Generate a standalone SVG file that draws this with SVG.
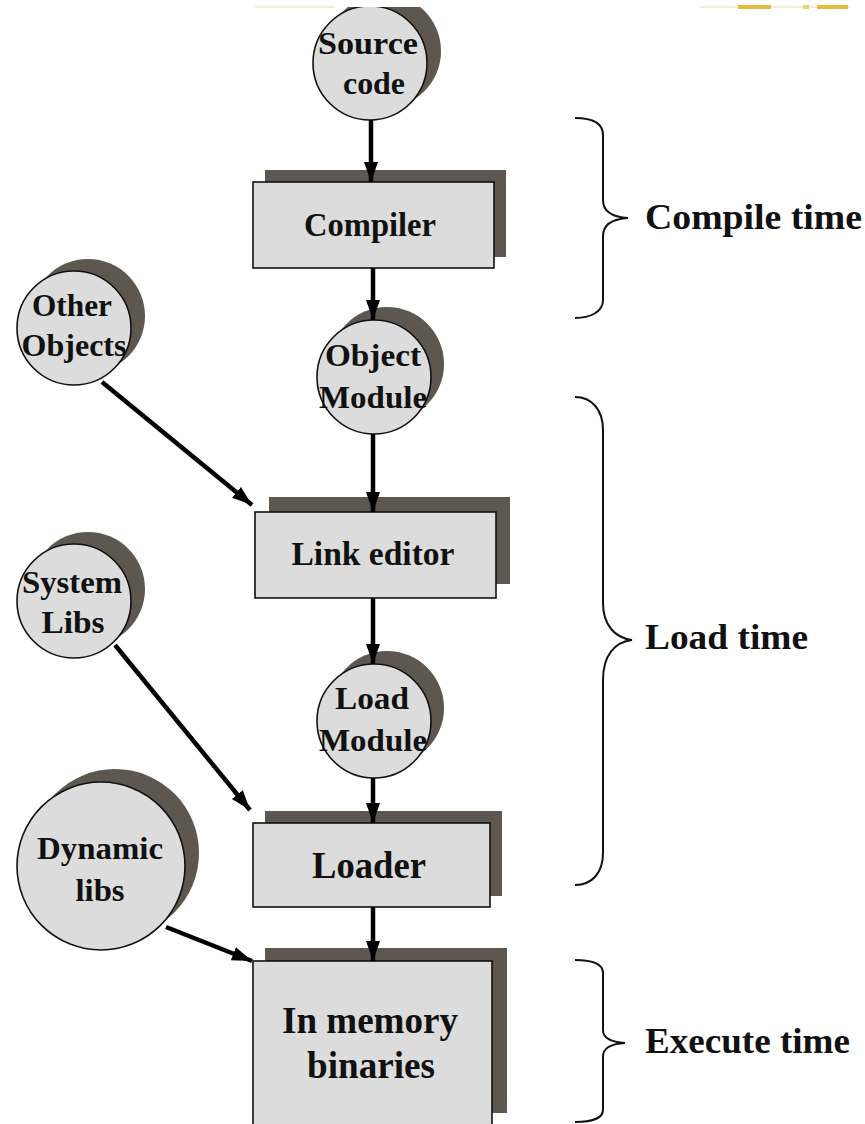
<svg xmlns="http://www.w3.org/2000/svg" width="865" height="1124" viewBox="0 0 865 1124">
  <style>
    .shadow { fill: #5e5750; }
    .face { fill: #dcdcdc; stroke: #111; stroke-width: 1.6; }
    .lbl { font-family: "Liberation Serif", "Times New Roman", serif; font-weight: bold; fill: #111; text-anchor: middle; }
    .sm { font-size: 32px; }
    .md { font-size: 34px; }
    .lg { font-size: 38px; }
    .side { font-family: "Liberation Serif", "Times New Roman", serif; font-weight: bold; fill: #111; font-size: 36px; }
    .arrow { stroke: #000; stroke-width: 4.5; fill: none; marker-end: url(#head); }
    .brace { stroke: #111; stroke-width: 2; fill: none; }
  </style>
  <defs>
    <marker id="head" markerUnits="userSpaceOnUse" markerWidth="22" markerHeight="18" refX="20" refY="9" orient="auto">
      <path d="M0,2 L20,9 L0,16 Z" fill="#000"/>
    </marker>
  </defs>

  <rect width="865" height="1124" fill="#fff"/>

  <!-- nodes -->
  <g id="source-code">
    <circle class="shadow" cx="384" cy="51" r="57"/>
    <circle class="face" cx="370" cy="63" r="57"/>
    <text class="lbl sm" x="368" y="54" textLength="100" lengthAdjust="spacingAndGlyphs">Source</text>
    <text class="lbl sm" x="374" y="94" textLength="62" lengthAdjust="spacingAndGlyphs">code</text>
  </g>

  <g id="compiler">
    <rect class="shadow" x="265" y="170" width="241" height="87"/>
    <rect class="face" x="253" y="182" width="241" height="86"/>
    <text class="lbl md" x="370" y="236" textLength="132" lengthAdjust="spacingAndGlyphs">Compiler</text>
  </g>

  <g id="other-objects">
    <circle class="shadow" cx="88" cy="316" r="57"/>
    <circle class="face" cx="74" cy="328" r="57"/>
    <text class="lbl sm" x="72" y="316" textLength="80" lengthAdjust="spacingAndGlyphs">Other</text>
    <text class="lbl sm" x="74" y="356" textLength="105" lengthAdjust="spacingAndGlyphs">Objects</text>
  </g>

  <g id="object-module">
    <circle class="shadow" cx="387" cy="364" r="57"/>
    <circle class="face" cx="374" cy="377" r="57"/>
    <text class="lbl sm" x="373" y="366" textLength="96" lengthAdjust="spacingAndGlyphs">Object</text>
    <text class="lbl sm" x="373" y="408" textLength="108" lengthAdjust="spacingAndGlyphs">Module</text>
  </g>

  <g id="link-editor">
    <rect class="shadow" x="269" y="497" width="241" height="87"/>
    <rect class="face" x="255" y="512" width="241" height="86"/>
    <text class="lbl md" x="373" y="565" textLength="163" lengthAdjust="spacingAndGlyphs">Link editor</text>
  </g>

  <g id="system-libs">
    <circle class="shadow" cx="88" cy="589" r="57"/>
    <circle class="face" cx="74" cy="601" r="57"/>
    <text class="lbl sm" x="72" y="593" textLength="100" lengthAdjust="spacingAndGlyphs">System</text>
    <text class="lbl sm" x="73" y="633" textLength="63" lengthAdjust="spacingAndGlyphs">Libs</text>
  </g>

  <g id="load-module">
    <circle class="shadow" cx="387" cy="708" r="57"/>
    <circle class="face" cx="374" cy="721" r="57"/>
    <text class="lbl sm" x="372" y="709" textLength="74" lengthAdjust="spacingAndGlyphs">Load</text>
    <text class="lbl sm" x="373" y="751" textLength="108" lengthAdjust="spacingAndGlyphs">Module</text>
  </g>

  <g id="loader">
    <rect class="shadow" x="265" y="811" width="237" height="85"/>
    <rect class="face" x="253" y="823" width="237" height="84"/>
    <text class="lbl lg" x="369" y="878" textLength="114" lengthAdjust="spacingAndGlyphs">Loader</text>
  </g>

  <g id="dynamic-libs">
    <circle class="shadow" cx="115" cy="853" r="84"/>
    <circle class="face" cx="101" cy="866" r="84"/>
    <text class="lbl sm" x="100" y="859" textLength="126" lengthAdjust="spacingAndGlyphs">Dynamic</text>
    <text class="lbl sm" x="100" y="901" textLength="49" lengthAdjust="spacingAndGlyphs">libs</text>
  </g>

  <g id="in-memory-binaries">
    <rect class="shadow" x="265" y="948" width="242" height="165"/>
    <rect class="face" x="253" y="961" width="239" height="170"/>
    <text class="lbl lg" x="370" y="1033" textLength="176" lengthAdjust="spacingAndGlyphs">In memory</text>
    <text class="lbl lg" x="371" y="1078" textLength="128" lengthAdjust="spacingAndGlyphs">binaries</text>
  </g>

  <!-- page header strip cutting the top edge -->
  <g id="header-strip">
    <rect x="0" y="0" width="865" height="7" fill="#fff"/>
    <rect x="255" y="6" width="80" height="2" fill="#f4eed2"/>
    <rect x="700" y="6" width="150" height="2" fill="#f4eed2"/>
    <rect x="738" y="5" width="33" height="4" fill="#e8bb3a"/>
    <rect x="803" y="5" width="6" height="4" fill="#eccf7a"/>
    <rect x="817" y="5" width="31" height="4" fill="#e8bb3a"/>
  </g>

  <!-- connectors -->
  <g id="connectors">
    <line class="arrow" x1="371" y1="120" x2="371" y2="182"/>
    <line class="arrow" x1="373" y1="268" x2="373" y2="320"/>
    <line class="arrow" x1="373" y1="434" x2="373" y2="512"/>
    <line class="arrow" x1="373" y1="598" x2="373" y2="664"/>
    <line class="arrow" x1="373" y1="778" x2="373" y2="823"/>
    <line class="arrow" x1="373" y1="907" x2="373" y2="961"/>
    <line class="arrow" x1="102" y1="382" x2="252" y2="505"/>
    <line class="arrow" x1="115" y1="645" x2="250" y2="810"/>
    <line class="arrow" x1="166" y1="927" x2="252" y2="961"/>
  </g>

  <!-- phase braces -->
  <g id="compile-time">
    <path class="brace" d="M575,118 C590,118 603,122 603,135 L603,200 C603,212 612,217 628,218 C612,219 603,224 603,236 L603,300 C603,312 590,318 575,318"/>
    <text class="side" x="645" y="229" textLength="217" lengthAdjust="spacingAndGlyphs">Compile time</text>
  </g>
  <g id="load-time">
    <path class="brace" d="M575,397 C592,397 603,410 603,430 L603,603 C603,625 615,638 632,640 C615,642 603,655 603,680 L603,853 C603,873 592,885 575,885"/>
    <text class="side" x="645" y="649" textLength="163" lengthAdjust="spacingAndGlyphs">Load time</text>
  </g>
  <g id="execute-time">
    <path class="brace" d="M575,960 C592,960 603,963 603,973 L603,1030 C603,1038 610,1042 625,1043 C610,1044 603,1048 603,1057 L603,1110 C603,1118 592,1122 575,1122"/>
    <text class="side" x="645" y="1053" textLength="205" lengthAdjust="spacingAndGlyphs">Execute time</text>
  </g>
</svg>
